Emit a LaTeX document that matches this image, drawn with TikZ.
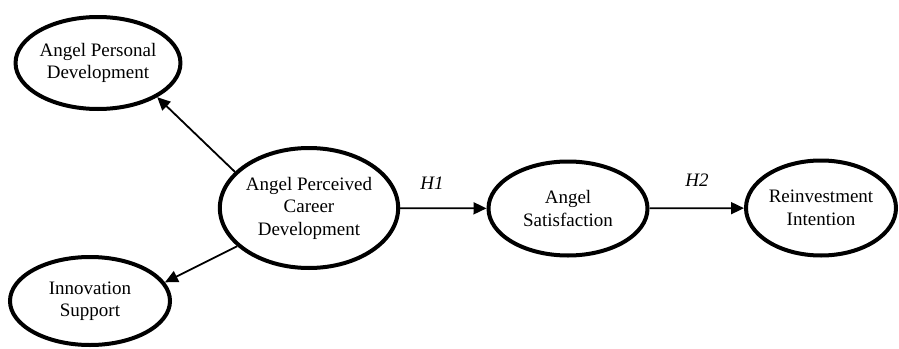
\documentclass[tikz,border=0pt]{standalone}
\usepackage{fontspec}
\setmainfont{Liberation Serif}
\usetikzlibrary{shapes.geometric,arrows.meta}
\begin{document}
\begin{tikzpicture}[x=1pt,y=-1pt,
  latent/.style={ellipse,draw,line width=4pt,inner sep=0pt,align=center,
    font=\fontsize{19}{22.5}\selectfont},
  arr/.style={line width=1.8pt,-{Triangle[length=13pt,width=12pt]}},
  hlab/.style={font=\fontsize{19}{22.5}\selectfont\itshape,inner sep=0pt}]
\useasboundingbox (0,0) rectangle (899,348);
\node[latent,minimum width=158pt,minimum height=92pt] (pers) at (98,63) {Angel Personal\\Development};
\node[latent,minimum width=160pt,minimum height=88pt] (innov) at (90,301) {Innovation\\Support};
\node[latent,minimum width=158pt,minimum height=120pt] (career) at (309,208) {Angel Perceived\\Career\\Development};
\node[latent,minimum width=159pt,minimum height=94pt] (sat) at (568,208.5) {Angel\\Satisfaction};
\node[latent,minimum width=150pt,minimum height=95pt] (reinv) at (821,208) {Reinvestment\\Intention};
\draw[arr] (career.154) -- (pers.-30);
\draw[arr] (career.208) -- (innov.14);
\draw[arr] (career) -- (sat);
\draw[arr] (sat) -- (reinv);
\node[hlab] (h1) at (432,183) {H1};
\node[hlab] (h2) at (697,180) {H2};
\end{tikzpicture}
\end{document}
